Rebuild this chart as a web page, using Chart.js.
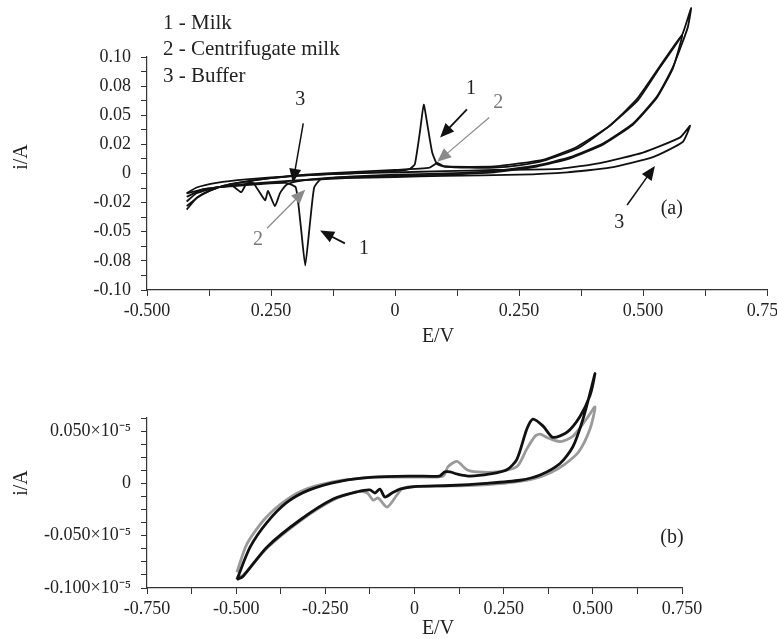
<!DOCTYPE html>
<html lang="en">
<head>
<meta charset="UTF-8">
<title>Cyclic voltammograms</title>
<script src="https://cdn.jsdelivr.net/npm/chart.js"></script>
<style>
  body { margin: 0; background: #fff; width: 777px; height: 639px; overflow: hidden; position: relative; }
  canvas { position: absolute; left: 0; }
  #chartA { top: 0; }
  #chartB { top: 345px; }
</style>
</head>
<body>
<canvas id="chartA" width="777" height="345"></canvas>
<canvas id="chartB" width="777" height="294"></canvas>
<script>
// ---- panel (a): E/V vs i/A ----
const xTicksA = [-0.5, -0.375, -0.25, -0.125, 0, 0.125, 0.25, 0.375, 0.5, 0.625, 0.75];
const xLabelsA = ['-0.500', '0.250', '0', '0.250', '0.500', '0.750'];
const yTicksA = [-0.1, -0.0875, -0.075, -0.0625, -0.05, -0.0375, -0.025, -0.0125, 0, 0.0125, 0.025, 0.0375, 0.05, 0.0625, 0.075, 0.0875, 0.1];
const yLabelsA = ['-0.10', '-0.08', '-0.05', '-0.02', '0', '0.02', '0.05', '0.08', '0.10'];

// 1 - Milk
const milkE = [-0.42, -0.40, -0.37, -0.33, -0.27, -0.20, -0.10, 0.00, 0.030, 0.040, 0.050, 0.058, 0.066, 0.075, 0.085, 0.10, 0.15, 0.20, 0.25, 0.30, 0.37, 0.43, 0.49, 0.534, 0.579, 0.597,
               0.59, 0.56, 0.528, 0.48, 0.42, 0.353, 0.286, 0.20, 0.10, 0.00, -0.10, -0.15, -0.163, -0.172, -0.181, -0.19, -0.20, -0.22, -0.27, -0.33, -0.38, -0.42];
const milkI = [-0.031, -0.021, -0.014, -0.009, -0.005, -0.002, 0.000, 0.002, 0.004, 0.008, 0.035, 0.059, 0.040, 0.018, 0.008, 0.006, 0.005, 0.005, 0.007, 0.011, 0.022, 0.040, 0.063, 0.091, 0.119, 0.142,
               0.125, 0.091, 0.066, 0.043, 0.026, 0.014, 0.007, 0.002, 0.000, -0.001, -0.003, -0.005, -0.012, -0.045, -0.079, -0.045, -0.012, -0.008, -0.009, -0.011, -0.013, -0.017];
// 2 - Centrifugate milk
const centE = [-0.42, -0.39, -0.35, -0.30, -0.25, -0.18, -0.10, 0.00, 0.07, 0.085, 0.10, 0.20, 0.30, 0.367, 0.433, 0.488, 0.534, 0.579,
               0.56, 0.528, 0.48, 0.42, 0.353, 0.286, 0.20, 0.10, 0.00, -0.10, -0.17, -0.20, -0.22, -0.232, -0.242, -0.256, -0.262, -0.286, -0.30, -0.31, -0.33, -0.36, -0.39, -0.42];
const centI = [-0.028, -0.018, -0.011, -0.007, -0.004, -0.001, 0.001, 0.003, 0.005, 0.009, 0.006, 0.006, 0.012, 0.023, 0.041, 0.064, 0.092, 0.119,
               0.090, 0.065, 0.042, 0.025, 0.013, 0.006, 0.001, -0.001, -0.002, -0.003, -0.005, -0.007, -0.010, -0.017, -0.028, -0.015, -0.023, -0.008, -0.009, -0.016, -0.010, -0.012, -0.014, -0.020];
// 3 - Buffer
const bufE = [-0.42, -0.40, -0.36, -0.30, -0.20, -0.10, 0.00, 0.10, 0.20, 0.333, 0.413, 0.50, 0.575, 0.595,
              0.58, 0.52, 0.433, 0.347, 0.25, 0.10, 0.00, -0.10, -0.20, -0.30, -0.36, -0.40, -0.42];
const bufI = [-0.017, -0.012, -0.008, -0.005, -0.002, 0.000, 0.001, 0.002, 0.003, 0.004, 0.009, 0.018, 0.031, 0.041,
              0.027, 0.014, 0.005, 0.001, -0.001, -0.002, -0.003, -0.004, -0.006, -0.009, -0.012, -0.017, -0.024];

// ---- panel (b) ----
const xTicksB = [-0.75, -0.625, -0.5, -0.375, -0.25, -0.125, 0, 0.125, 0.25, 0.375, 0.5, 0.625, 0.75];
const xLabelsB = ['-0.750', '-0.500', '-0.250', '0', '0.250', '0.500', '0.750'];
const yTicksB = [-0.1, -0.0875, -0.075, -0.0625, -0.05, -0.0375, -0.025, -0.0125, 0, 0.0125, 0.025, 0.0375, 0.05, 0.0625];
const yLabelsB = ['-0.100×10⁻⁵', '-0.050×10⁻⁵', '0', '0.050×10⁻⁵'];

const blackE = [-0.498, -0.461, -0.414, -0.357, -0.293, -0.209, -0.116, 0.0, 0.07, 0.085, 0.100, 0.119, 0.156, 0.212, 0.259, 0.287, 0.315, 0.332, 0.36, 0.388, 0.428, 0.464, 0.492, 0.506,
                0.495, 0.472, 0.444, 0.408, 0.352, 0.296, 0.20, 0.10, 0.0, -0.041, -0.063, -0.083, -0.097, -0.111, -0.125, -0.16, -0.228, -0.321, -0.414, -0.481, -0.498];
const blackI = [-0.092, -0.061, -0.0375, -0.018, -0.006, 0.002, 0.006, 0.007, 0.007, 0.011, 0.011, 0.009, 0.007, 0.009, 0.013, 0.023, 0.052, 0.0615, 0.055, 0.044, 0.049, 0.064, 0.084, 0.105,
                0.090, 0.061, 0.035, 0.019, 0.008, 0.003, 0.000, -0.002, -0.003, -0.0054, -0.0092, -0.013, -0.0054, -0.0092, -0.0063, -0.008, -0.015, -0.035, -0.061, -0.089, -0.092];
const grayE = [-0.498, -0.47, -0.42, -0.36, -0.30, -0.20, -0.10, 0.0, 0.08, 0.094, 0.119, 0.147, 0.175, 0.231, 0.287, 0.315, 0.338, 0.352, 0.371, 0.408, 0.444, 0.483, 0.506,
               0.492, 0.46, 0.42, 0.38, 0.33, 0.25, 0.15, 0.0, -0.035, -0.049, -0.077, -0.102, -0.116, -0.133, -0.16, -0.228, -0.321, -0.414, -0.481, -0.498];
const grayI = [-0.085, -0.058, -0.034, -0.016, -0.005, 0.003, 0.006, 0.006, 0.007, 0.016, 0.021, 0.013, 0.011, 0.011, 0.016, 0.033, 0.045, 0.047, 0.044, 0.040, 0.045, 0.062, 0.073,
               0.052, 0.030, 0.018, 0.010, 0.004, 0.000, -0.002, -0.003, -0.005, -0.011, -0.0226, -0.014, -0.016, -0.009, -0.008, -0.016, -0.036, -0.062, -0.088, -0.090];

const pts = (xs, ys) => xs.map((x, i) => ({ x: x, y: ys[i] }));

const serif = '"Liberation Serif", "Times New Roman", serif';
const tickFont = { family: serif, size: 18 };

// arrows, numbers and axis titles drawn on top
const notes = {
  id: 'notes',
  afterDraw(chart, args, opts) {
    const ctx = chart.ctx, sx = chart.scales.x, sy = chart.scales.y;
    ctx.save();
    ctx.textAlign = 'center';
    ctx.textBaseline = 'middle';
    (opts.arrows || []).forEach(a => {
      const x0 = sx.getPixelForValue(a.from[0]), y0 = sy.getPixelForValue(a.from[1]);
      const x1 = sx.getPixelForValue(a.to[0]), y1 = sy.getPixelForValue(a.to[1]);
      const ang = Math.atan2(y1 - y0, x1 - x0), L = 14, W = 6;
      ctx.strokeStyle = a.color; ctx.fillStyle = a.color; ctx.lineWidth = a.width;
      ctx.beginPath();
      ctx.moveTo(x0, y0);
      ctx.lineTo(x1 - L * 0.8 * Math.cos(ang), y1 - L * 0.8 * Math.sin(ang));
      ctx.stroke();
      ctx.beginPath();
      ctx.moveTo(x1, y1);
      ctx.lineTo(x1 - L * Math.cos(ang) + W * Math.sin(ang), y1 - L * Math.sin(ang) - W * Math.cos(ang));
      ctx.lineTo(x1 - L * Math.cos(ang) - W * Math.sin(ang), y1 - L * Math.sin(ang) + W * Math.cos(ang));
      ctx.closePath();
      ctx.fill();
    });
    ctx.font = '20px ' + serif;
    (opts.labels || []).forEach(t => {
      ctx.fillStyle = t.color || '#222';
      ctx.fillText(t.text, sx.getPixelForValue(t.at[0]), sy.getPixelForValue(t.at[1]));
    });
    (opts.titles || []).forEach(t => {
      ctx.fillStyle = '#222';
      ctx.font = (t.size || 20) + 'px ' + serif;
      ctx.textAlign = t.align || 'center';
      ctx.save();
      ctx.translate(t.x, t.y);
      if (t.rot) ctx.rotate(-Math.PI / 2);
      ctx.fillText(t.text, 0, 0);
      ctx.restore();
    });
    ctx.restore();
  }
};

function scales(xT, xL, xEvery, yT, yL, yEvery, yWidth, xHeight, xMin, xMax, yMin, yMax) {
  const grid = { drawOnChartArea: false, tickLength: 6, color: '#333', lineWidth: 1 };
  const border = { color: '#333', width: 1.2 };
  return {
    x: {
      type: 'linear', min: xMin, max: xMax,
      afterBuildTicks: s => { s.ticks = xT.map(v => ({ value: v })); },
      afterFit: s => { s.height = xHeight; s.paddingLeft = 0; s.paddingRight = 0; },
      ticks: { autoSkip: false, maxRotation: 0, padding: 4, font: tickFont, color: '#222',
               callback: (v, i) => i % xEvery ? '' : xL[i / xEvery] },
      grid: grid, border: border
    },
    y: {
      type: 'linear', min: yMin, max: yMax,
      afterBuildTicks: s => { s.ticks = yT.map(v => ({ value: v })); },
      afterFit: s => { s.width = yWidth; s.paddingTop = 0; s.paddingBottom = 0; },
      ticks: { autoSkip: false, padding: 10, font: tickFont, color: '#222',
               callback: (v, i) => i % yEvery ? '' : yL[i / yEvery] },
      grid: grid, border: border
    }
  };
}

const lineA = { borderColor: '#111', borderWidth: 1.8, pointRadius: 0, showLine: true, tension: 0.15, clip: false };

new Chart(document.getElementById('chartA'), {
  type: 'scatter',
  data: {
    datasets: [
      Object.assign({ label: '1 - Milk', data: pts(milkE, milkI) }, lineA),
      Object.assign({ label: '2 - Centrifugate milk', data: pts(centE, centI) }, lineA),
      Object.assign({ label: '3 - Buffer', data: pts(bufE, bufI) }, lineA)
    ]
  },
  options: {
    responsive: false, animation: false, devicePixelRatio: 1,
    layout: { padding: { left: 0, top: 57, right: 10, bottom: 0 } },
    scales: scales(xTicksA, xLabelsA, 2, yTicksA, yLabelsA, 2, 147, 55, -0.5, 0.75, -0.1, 0.1),
    plugins: {
      legend: { display: false }, tooltip: { enabled: false },
      notes: {
        arrows: [
          { from: [-0.185, 0.043], to: [-0.206, -0.008], color: '#111', width: 1.5 },
          { from: [-0.258, -0.047], to: [-0.181, -0.014], color: '#8a8a8a', width: 1.2 },
          { from: [-0.101, -0.060], to: [-0.151, -0.049], color: '#111', width: 1.8 },
          { from: [0.145, 0.055], to: [0.091, 0.031], color: '#111', width: 1.8 },
          { from: [0.190, 0.048], to: [0.085, 0.010], color: '#8a8a8a', width: 1.2 },
          { from: [0.468, -0.027], to: [0.524, 0.0064], color: '#111', width: 1.5 }
        ],
        labels: [
          { text: '3', at: [-0.191, 0.063] },
          { text: '2', at: [-0.276, -0.057], color: '#777' },
          { text: '1', at: [-0.0625, -0.065] },
          { text: '1', at: [0.153, 0.073] },
          { text: '2', at: [0.208, 0.061], color: '#777' },
          { text: '3', at: [0.452, -0.042] },
          { text: '(a)', at: [0.558, -0.030] }
        ],
        titles: [
          { text: '1 - Milk', x: 163, y: 23, align: 'left', size: 21 },
          { text: '2 - Centrifugate milk', x: 163, y: 49, align: 'left', size: 21 },
          { text: '3 - Buffer', x: 163, y: 76, align: 'left', size: 21 },
          { text: 'i/A', x: 22, y: 157, rot: true },
          { text: 'E/V', x: 438, y: 337 }
        ]
      }
    }
  },
  plugins: [notes]
});

const lineB = { borderWidth: 2.8, pointRadius: 0, showLine: true, tension: 0.25, clip: false };

new Chart(document.getElementById('chartB'), {
  type: 'scatter',
  data: {
    datasets: [
      Object.assign({ label: 'black', data: pts(blackE, blackI), borderColor: '#111' }, lineB),
      Object.assign({ label: 'gray', data: pts(grayE, grayI), borderColor: '#9a9a9a' }, lineB)
    ]
  },
  options: {
    responsive: false, animation: false, devicePixelRatio: 1,
    layout: { padding: { left: 0, top: 73, right: 95, bottom: 0 } },
    scales: scales(xTicksB, xLabelsB, 2, yTicksB, yLabelsB, 4, 147, 51, -0.75, 0.75, -0.1, 0.0625),
    plugins: {
      legend: { display: false }, tooltip: { enabled: false },
      notes: {
        labels: [ { text: '(b)', at: [0.722, -0.052] } ],
        titles: [
          { text: 'i/A', x: 22, y: 138, rot: true },
          { text: 'E/V', x: 438, y: 284 }
        ]
      }
    }
  },
  plugins: [notes]
});
</script>
</body>
</html>
